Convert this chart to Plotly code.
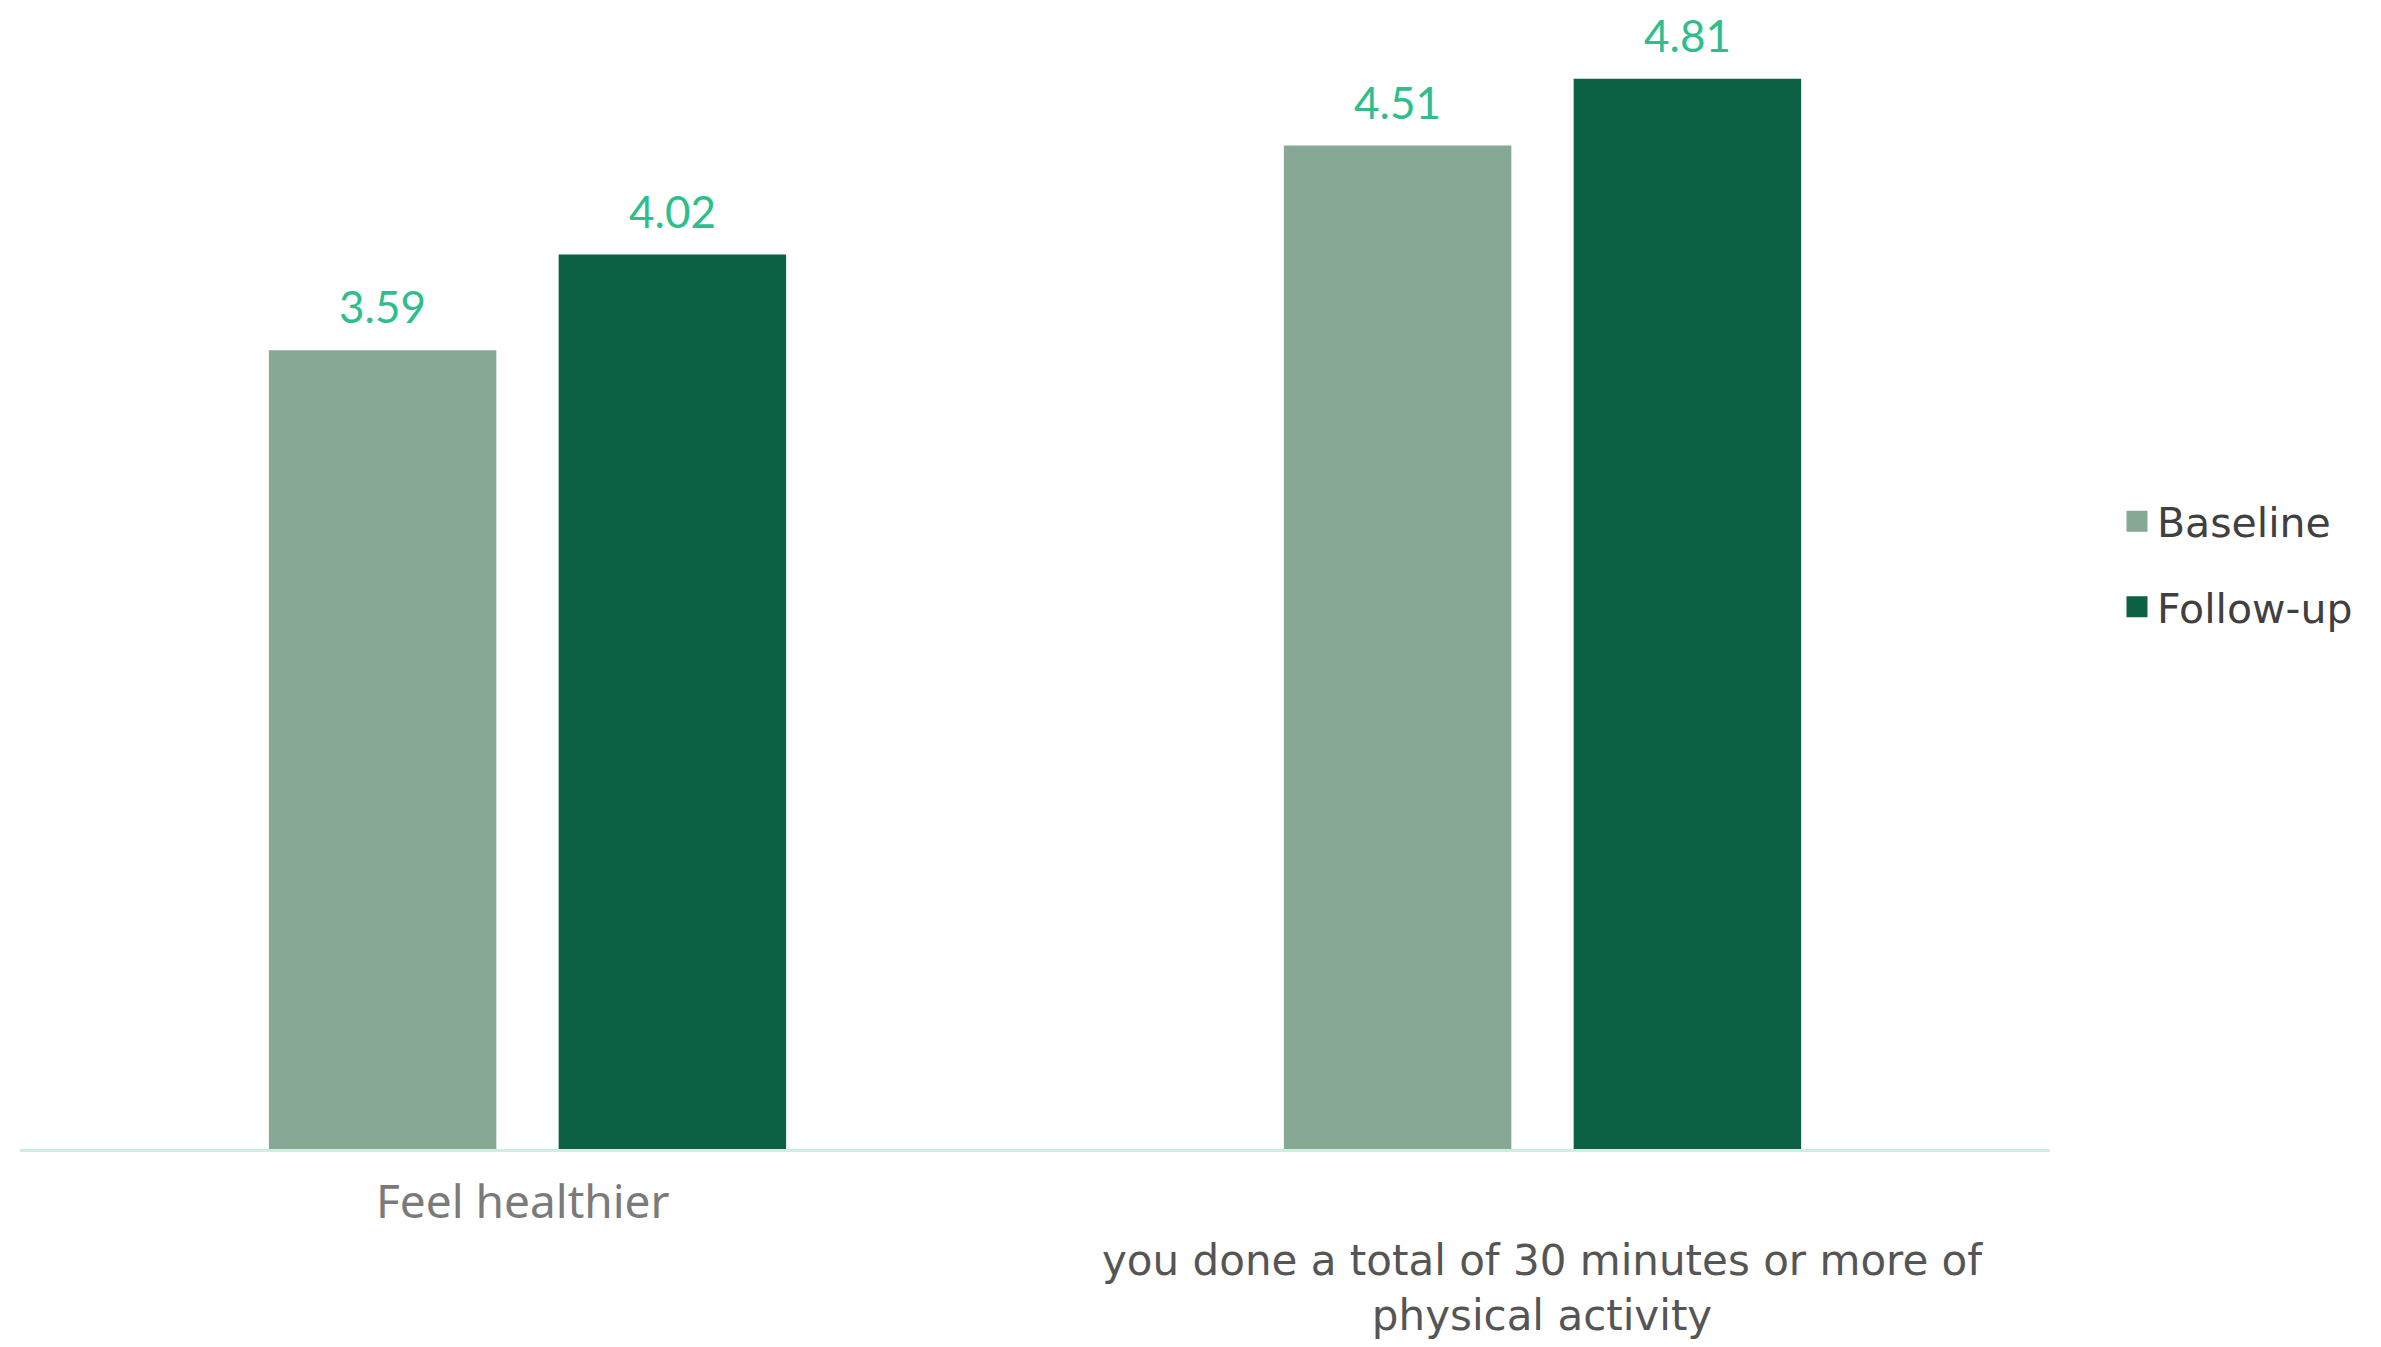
import plotly.graph_objects as go

categories = ["Feel healthier", "you done a total of 30 minutes or more of<br>physical activity"]
series_names = ["Baseline", "Follow-up"]
baseline_values = [3.59, 4.51]
followup_values = [4.02, 4.81]
colors = ["#88A896", "#0C6044"]

W, H = 2381, 1347
ML, MR, MT, MB = 12, 339, 12, 206
plot_h = H - MT - MB
y_top = plot_h / 222.5

BARGAP, BARGROUPGAP = 0.429, 0.215
plot_w = W - ML - MR
cat_px = plot_w / len(categories)
slot_px = cat_px * (1 - BARGAP) / len(series_names)

fig = go.Figure()
series = [baseline_values, followup_values]
for i, (name, vals, col) in enumerate(zip(series_names, series, colors)):
    fig.add_trace(go.Bar(
        x=categories, y=vals, name=name, marker=dict(color=col, line=dict(width=0)),
        showlegend=False, cliponaxis=False,
    ))
    fig.add_trace(go.Scatter(
        x=[None], y=[None], mode="markers", name=name,
        marker=dict(symbol="square", size=16, color=col, line=dict(color=col, width=5)),
        legendgroup=name,
    ))
    shift = (i - (len(series_names) - 1) / 2) * slot_px
    for c, v in zip(categories, vals):
        fig.add_annotation(x=c, y=v, xref="x", yref="y", text=f"{v:.2f}",
                           showarrow=False, xshift=shift, yshift=44, yanchor="middle",
                           font=dict(family="Lato", size=44, color="#2EBE8C"))

# category labels (different fonts as in reference)
fig.add_annotation(x=categories[0], y=-0.045, xref="x", yref="paper", text=categories[0],
                   showarrow=False, yanchor="middle", xshift=-5,
                   font=dict(family="Noto Sans", size=46, color="#7A7A7A"))
fig.add_annotation(x=categories[1], y=-0.123, xref="x", yref="paper", text=categories[1],
                   showarrow=False, yanchor="middle",
                   font=dict(family="DejaVu Sans", size=42, color="#555555"))

fig.update_layout(
    width=W, height=H,
    margin=dict(l=ML, r=MR, t=MT, b=MB),
    paper_bgcolor="white", plot_bgcolor="white",
    barmode="group", bargap=BARGAP, bargroupgap=BARGROUPGAP,
    xaxis=dict(showticklabels=False, showline=True, linecolor="#CDEFE3", linewidth=3,
               ticks="", showgrid=False, zeroline=False, range=[-0.5, 1.5]),
    yaxis=dict(visible=False, range=[0, y_top], showgrid=False, zeroline=False),
    legend=dict(x=1.033, xanchor="left", y=0.518, yanchor="middle",
                font=dict(family="DejaVu Sans", size=41, color="#404040"),
                traceorder="grouped", tracegroupgap=29, bgcolor="rgba(0,0,0,0)"),
    showlegend=True,
)

fig.write_html("out.html")
